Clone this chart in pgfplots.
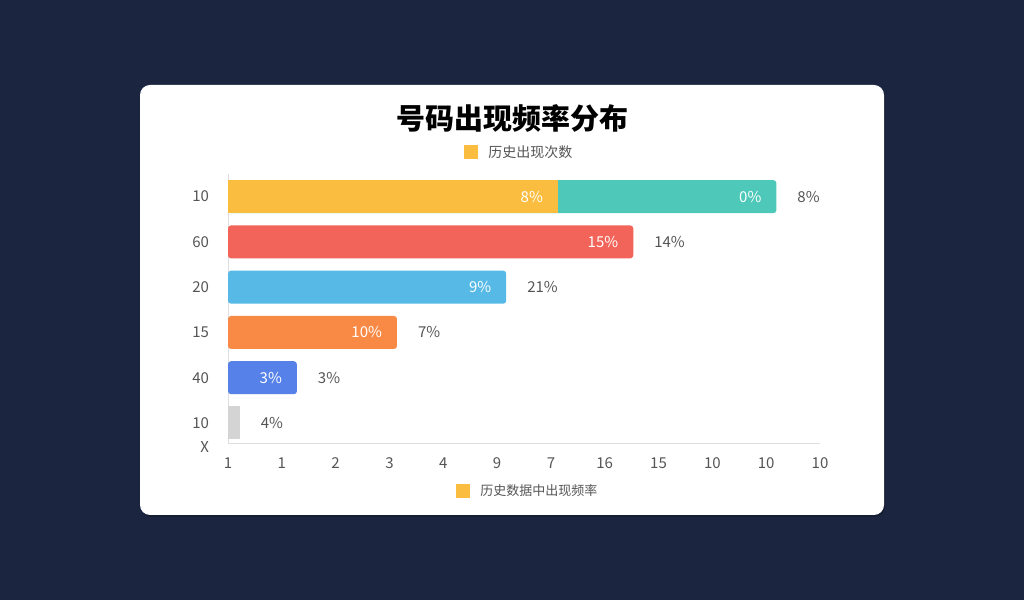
\documentclass[border=0pt]{standalone}
\usepackage{pgfplots}
\pgfplotsset{compat=1.18}
\usepackage{fontspec}
\setmainfont{Noto Sans CJK SC}
\usetikzlibrary{shadows}

\definecolor{bgnavy}{HTML}{1B2540}
\definecolor{cyellow}{HTML}{FBBD40}
\definecolor{cteal}{HTML}{4DC8B9}
\definecolor{cred}{HTML}{F2645A}
\definecolor{cblue}{HTML}{56B9E6}
\definecolor{corange}{HTML}{F98A45}
\definecolor{croyal}{HTML}{5681E8}
\definecolor{cgray}{HTML}{D4D4D4}
\definecolor{txtgray}{HTML}{555555}

\begin{document}
\begin{tikzpicture}
% background and card (1px = 0.5pt)
\fill[bgnavy] (0,0) rectangle (512pt,300pt);
\fill[black,opacity=0.2,rounded corners=5pt] (70.5pt,41.5pt) rectangle (442.5pt,256.5pt);
\fill[white,rounded corners=5pt] (70pt,42.5pt) rectangle (442pt,257.5pt);

% title and legends
\node[font=\fontsize{14.5}{16}\selectfont\bfseries] at (256pt,241pt) {号码出现频率分布};
\fill[cyellow] (232pt,220.5pt) rectangle (239pt,227.5pt);
\node[anchor=west,text=txtgray,font=\fontsize{7}{8}\selectfont,inner sep=0pt] at (244pt,224pt) {历史出现次数};

\begin{axis}[
    at={(114pt,78.5pt)}, anchor=south west,
    scale only axis, width=296pt, height=134.5pt,
    xmin=0, xmax=11, ymin=-0.442, ymax=5.5,
    axis x line=bottom, axis y line=left,
    axis line style={draw=black!13, -},
    xtick={0,...,11},
    xticklabels={1,1,2,3,4,9,7,16,15,10,10,10},
    ytick={0,1,2,3,4,5},
    yticklabels={10,40,15,20,60,10},
    extra y ticks={-0.44},
    extra y tick labels={X},
    extra y tick style={yticklabel style={yshift=-2pt}},
    major tick length=0pt,
    tick label style={text=txtgray, font=\fontsize{7.5}{9}\selectfont},
    /pgf/number format/assume math mode=true,
    xticklabel style={yshift=-4pt},
    yticklabel style={xshift=-6pt},
    xbar, bar shift=0pt, bar width=16.5pt,
    point meta=explicit symbolic,
    nodes near coords,
    every node near coord/.append style={anchor=east, xshift=-4pt, text=white, font=\fontsize{7.5}{9}\selectfont},
    clip=false,
]
% row 1: teal total, yellow part on top
\addplot[fill=cteal, draw=none, rounded corners=1.5pt] coordinates {(10.19,5) [0\%]};
\addplot[fill=cyellow, draw=none] coordinates {(6.13,5) [8\%]};
\addplot[fill=cred, draw=none, rounded corners=1.5pt] coordinates {(7.53,4) [15\%]};
\addplot[fill=cblue, draw=none, rounded corners=1.5pt] coordinates {(5.17,3) [9\%]};
\addplot[fill=corange, draw=none, rounded corners=1.5pt] coordinates {(3.14,2) [10\%]};
\addplot[fill=croyal, draw=none, rounded corners=1.5pt] coordinates {(1.28,1) [3\%]};
\addplot[fill=cgray, draw=none, nodes near coords=\empty] coordinates {(0.22,0) []};
% outside labels
\addplot[draw=none, fill=none,
    every node near coord/.style={anchor=west, xshift=7pt, text=txtgray, font=\fontsize{7.5}{9}\selectfont}]
    coordinates {(10.19,5) [8\%] (7.53,4) [14\%] (5.17,3) [21\%] (3.14,2) [7\%] (1.28,1) [3\%] (0.22,0) [4\%]};
\end{axis}

\fill[cyellow] (228pt,51pt) rectangle (235pt,58pt);
\node[anchor=west,text=txtgray,font=\fontsize{6.5}{8}\selectfont,inner sep=0pt] at (240pt,54.5pt) {历史数据中出现频率};
\end{tikzpicture}
\end{document}
